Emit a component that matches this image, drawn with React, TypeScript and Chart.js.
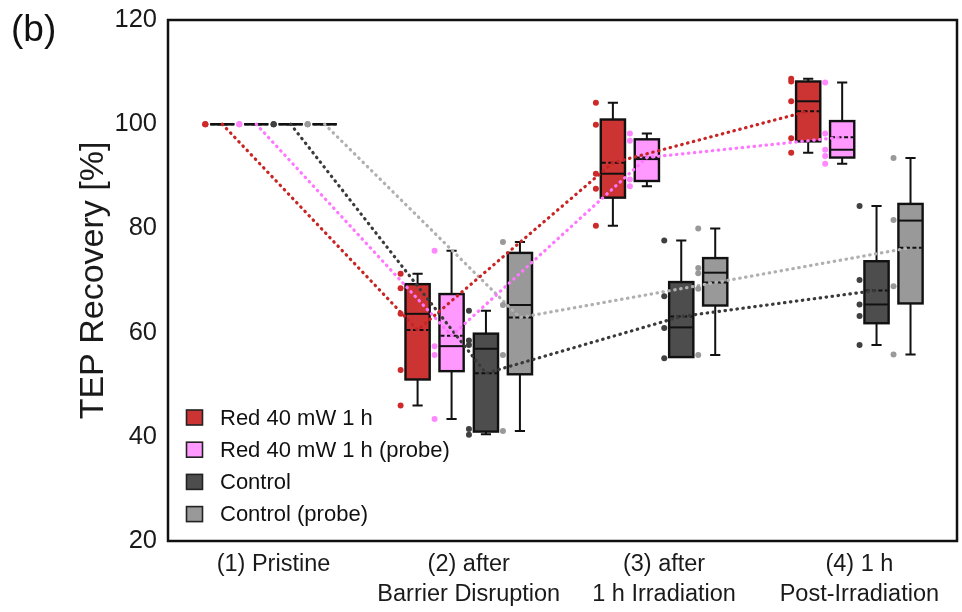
import { useEffect, useRef } from "react";
import { Chart, registerables } from "chart.js";

Chart.register(...registerables);

// ---------- data ----------
const categoryLabels: string[][] = [
  ["(1) Pristine"],
  ["(2) after", "Barrier Disruption"],
  ["(3) after", "1 h Irradiation"],
  ["(4) 1 h", "Post-Irradiation"],
];
const yTickValues = [20, 40, 60, 80, 100, 120];
const seriesNames = ["Red 40 mW 1 h", "Red 40 mW 1 h (probe)", "Control", "Control (probe)"];

const redMin = [100, 46.0, 80.5, 94.5];
const redQ1 = [100, 51.0, 85.9, 96.7];
const redMedian = [100, 63.6, 90.5, 104.4];
const redMean = [100, 60.5, 92.6, 102.5];
const redQ3 = [100, 69.3, 100.9, 108.2];
const redMax = [100, 71.3, 104.1, 108.7];
const redPoints = [[100, 100, 100], [71.3, 68.5, 63.6, 52.8, 46.0], [104.1, 99.9, 90.5, 87.6, 80.5], [108.7, 108.2, 104.4, 97.3, 94.5]];

const pinkMin = [100, 43.4, 88.1, 92.4];
const pinkQ1 = [100, 52.6, 89.1, 93.6];
const pinkMedian = [100, 57.4, 93.3, 95.1];
const pinkMean = [100, 59.4, 93.6, 97.5];
const pinkQ3 = [100, 67.4, 97.1, 100.6];
const pinkMax = [100, 75.7, 98.2, 108.0];
const pinkPoints = [[100, 100, 100], [75.7, 57.4, 55.7, 43.4], [98.2, 96.8, 89.4, 88.1], [108.0, 98.2, 95.1, 93.9, 92.4]];

const ctrlMin = [100, 40.5, 55.3, 57.6];
const ctrlQ1 = [100, 41.0, 55.3, 61.8];
const ctrlMedian = [100, 56.9, 61.0, 65.4];
const ctrlMean = [100, 52.2, 63.1, 68.1];
const ctrlQ3 = [100, 59.8, 69.7, 73.7];
const ctrlMax = [100, 64.2, 77.7, 84.3];
const ctrlPoints = [[100, 100, 100], [64.2, 58.5, 57.6, 41.5, 40.4], [77.7, 67.0, 60.9, 55.1], [84.3, 70.1, 65.4, 63.2, 57.6]];

const probeMin = [100, 41.1, 55.7, 55.8];
const probeQ1 = [100, 52.0, 65.2, 65.6];
const probeMedian = [100, 65.3, 71.5, 81.5];
const probeMean = [100, 62.9, 69.6, 76.3];
const probeQ3 = [100, 75.3, 74.3, 84.7];
const probeMax = [100, 77.4, 80.0, 93.5];
const probePoints = [[100, 100, 100], [77.4, 65.3, 55.7, 41.1], [80.0, 72.4, 71.4, 68.4, 55.7], [93.5, 81.6, 68.9, 55.8]];

// ---------- styling / layout ----------
const FONT = "'Liberation Sans', Arial, Helvetica, sans-serif";
const series = [
  { min: redMin, q1: redQ1, med: redMedian, mean: redMean, q3: redQ3, max: redMax, pts: redPoints, fill: "#cc3333", dot: "#cf2a2a", line: "#c82424" },
  { min: pinkMin, q1: pinkQ1, med: pinkMedian, mean: pinkMean, q3: pinkQ3, max: pinkMax, pts: pinkPoints, fill: "#ff99ff", dot: "#ff88ff", line: "#ff77ff" },
  { min: ctrlMin, q1: ctrlQ1, med: ctrlMedian, mean: ctrlMean, q3: ctrlQ3, max: ctrlMax, pts: ctrlPoints, fill: "#4d4d4d", dot: "#404040", line: "#3a3a3a" },
  { min: probeMin, q1: probeQ1, med: probeMedian, mean: probeMean, q3: probeQ3, max: probeMax, pts: probePoints, fill: "#999999", dot: "#999999", line: "#b0b0b0" },
];
const groupOffsets = [-0.262, -0.088, 0.088, 0.262];
const boxWidth = 0.124;
const dotShift = 0.087;

const boxPlugin = {
  id: "boxes",
  beforeDatasetsDraw(chart: any) {
    const { ctx } = chart;
    const x = chart.scales.x;
    const y = chart.scales.y;
    const half = (x.getPixelForValue(boxWidth) - x.getPixelForValue(0)) / 2;
    const capHalf = half * 0.42;
    ctx.save();
    series.forEach((s, si) => {
      for (let c = 0; c < categoryLabels.length; c++) {
        const cx = x.getPixelForValue(c + groupOffsets[si]);
        const yMin = y.getPixelForValue(s.min[c]);
        const yQ1 = y.getPixelForValue(s.q1[c]);
        const yMed = y.getPixelForValue(s.med[c]);
        const yMean = y.getPixelForValue(s.mean[c]);
        const yQ3 = y.getPixelForValue(s.q3[c]);
        const yMax = y.getPixelForValue(s.max[c]);
        ctx.strokeStyle = "#111";
        ctx.lineWidth = 2;
        ctx.setLineDash([]);
        ctx.beginPath();
        ctx.moveTo(cx, yQ1);
        ctx.lineTo(cx, yMin);
        ctx.moveTo(cx - capHalf, yMin);
        ctx.lineTo(cx + capHalf, yMin);
        ctx.moveTo(cx, yQ3);
        ctx.lineTo(cx, yMax);
        ctx.moveTo(cx - capHalf, yMax);
        ctx.lineTo(cx + capHalf, yMax);
        ctx.stroke();
        ctx.fillStyle = s.fill;
        ctx.fillRect(cx - half, yQ3, half * 2, yQ1 - yQ3);
        ctx.lineWidth = 2.4;
        ctx.strokeRect(cx - half, yQ3, half * 2, yQ1 - yQ3);
        ctx.lineWidth = 2;
        ctx.beginPath();
        ctx.moveTo(cx - half, yMed);
        ctx.lineTo(cx + half, yMed);
        ctx.stroke();
        ctx.setLineDash([4, 2.5]);
        ctx.beginPath();
        ctx.moveTo(cx - half + 1, yMean);
        ctx.lineTo(cx + half - 1, yMean);
        ctx.stroke();
        ctx.setLineDash([]);
      }
    });
    ctx.restore();
  },
  afterDraw(chart: any) {
    const { ctx, chartArea } = chart;
    ctx.save();
    ctx.strokeStyle = "#111";
    ctx.lineWidth = 2.5;
    ctx.strokeRect(chartArea.left, chartArea.top, chartArea.right - chartArea.left, chartArea.bottom - chartArea.top);
    ctx.font = `22px ${FONT}`;
    ctx.textBaseline = "middle";
    ctx.textAlign = "left";
    seriesNames.forEach((name, i) => {
      const cy = chartArea.bottom - 123.5 + i * 32.2;
      const sx = chartArea.left + 18.5;
      ctx.fillStyle = series[i].fill;
      ctx.fillRect(sx, cy - 7.5, 16, 15);
      ctx.lineWidth = 1.6;
      ctx.strokeStyle = "#222";
      ctx.strokeRect(sx, cy - 7.5, 16, 15);
      ctx.fillStyle = "#111";
      ctx.fillText(name, chartArea.left + 52, cy + 1);
    });
    ctx.font = `37px ${FONT}`;
    ctx.textBaseline = "alphabetic";
    ctx.fillStyle = "#111";
    ctx.fillText("(b)", 11, 41);
    ctx.restore();
  },
};

export default function App() {
  const canvasRef = useRef<HTMLCanvasElement | null>(null);

  useEffect(() => {
    if (!canvasRef.current) return;
    const datasets: any[] = [];
    series.forEach((s, si) => {
      datasets.push({
        type: "line",
        label: seriesNames[si] + " mean",
        data: s.mean.map((v, c) => ({ x: c + groupOffsets[si], y: v })),
        borderColor: s.line,
        borderWidth: 3.2,
        borderDash: [0.5, 5.5],
        borderCapStyle: "round",
        pointRadius: 0,
        fill: false,
        tension: 0,
        order: 2,
      });
    });
    series.forEach((s, si) => {
      const pts: { x: number; y: number }[] = [];
      s.pts.forEach((arr, c) => arr.forEach((v) => pts.push({ x: c + groupOffsets[si] - dotShift, y: v })));
      datasets.push({
        type: "scatter",
        label: seriesNames[si] + " points",
        data: pts,
        pointRadius: 3,
        pointBackgroundColor: s.dot,
        pointBorderWidth: 0,
        borderColor: s.dot,
        order: 1,
      });
    });

    const chart = new Chart(canvasRef.current, {
      type: "scatter",
      data: { datasets },
      plugins: [boxPlugin],
      options: {
        animation: false,
        responsive: true,
        maintainAspectRatio: false,
        layout: { padding: { top: 20, right: 5, left: 0, bottom: 0 } },
        plugins: { legend: { display: false }, tooltip: { enabled: false } },
        scales: {
          x: {
            type: "linear",
            min: -0.54,
            max: 3.5,
            grid: { display: false },
            border: { display: false },
            afterBuildTicks: (scale: any) => {
              scale.ticks = categoryLabels.map((_, i) => ({ value: i }));
            },
            afterFit: (scale: any) => {
              scale.height = 71;
            },
            ticks: {
              autoSkip: false,
              maxRotation: 0,
              padding: 0,
              color: "#1a1a1a",
              font: { family: FONT, size: 23.5, lineHeight: 1.28 },
              callback: (_v: any, i: number) => categoryLabels[i],
            },
          },
          y: {
            type: "linear",
            min: 20,
            max: 120,
            grid: { display: false },
            border: { display: false },
            afterBuildTicks: (scale: any) => {
              scale.ticks = yTickValues.map((v) => ({ value: v }));
            },
            afterFit: (scale: any) => {
              scale.width = 168;
            },
            ticks: {
              padding: 3,
              color: "#1a1a1a",
              font: { family: FONT, size: 25.5 },
            },
            title: {
              display: true,
              text: "TEP Recovery [%]",
              color: "#1a1a1a",
              font: { family: FONT, size: 34 },
              padding: { top: 73.5, bottom: 0 },
            },
          },
        },
      } as any,
    });
    return () => chart.destroy();
  }, []);

  return (
    <div style={{ position: "fixed", left: 0, top: 0, width: 962, height: 612, background: "#fff" }}>
      <canvas ref={canvasRef} />
    </div>
  );
}
